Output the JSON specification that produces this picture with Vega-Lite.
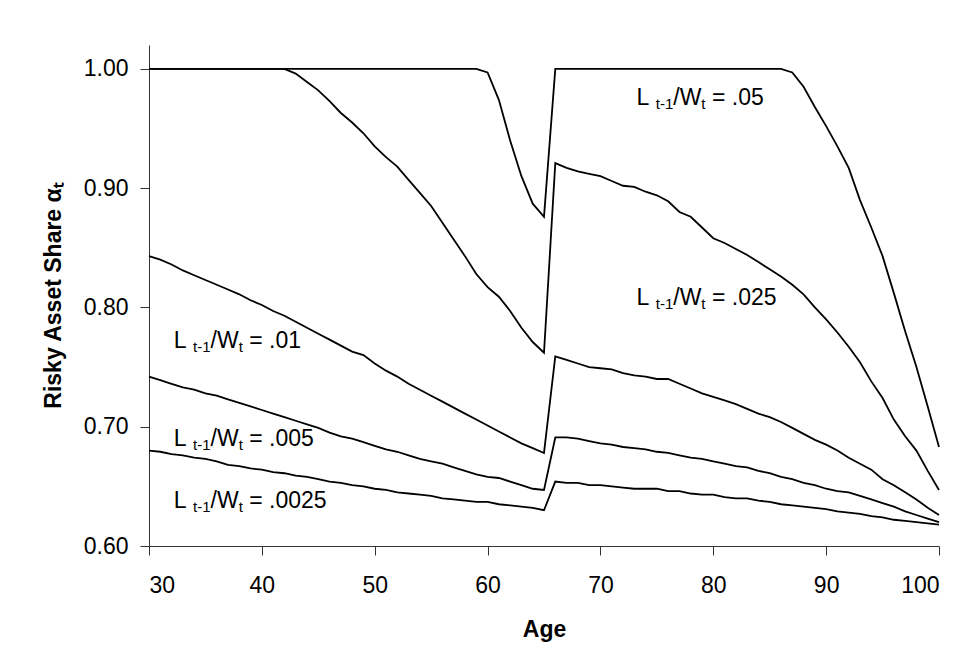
{
  "$schema": "https://vega.github.io/schema/vega-lite/v6.json",
  "width": 790,
  "height": 501,
  "autosize": "none",
  "padding": {"left": 149, "top": 45, "right": 34, "bottom": 120},
  "background": "white",
  "config": {
    "view": {"stroke": null},
    "font": "Liberation Sans",
    "axis": {"grid": false, "domainColor": "#333333", "tickColor": "#333333", "domainWidth": 1, "tickWidth": 1, "labelFont": "Liberation Sans", "labelFontSize": 23, "labelColor": "black", "titleFont": "Liberation Sans", "titleFontSize": 23, "titleFontWeight": "bold", "titleColor": "black", "tickSize": 9}
  },
  "datasets": {
    "curves": [
      {"s":"a","x":30,"y":1},{"s":"a","x":31,"y":1},{"s":"a","x":32,"y":1},{"s":"a","x":33,"y":1},{"s":"a","x":34,"y":1},{"s":"a","x":35,"y":1},{"s":"a","x":36,"y":1},{"s":"a","x":37,"y":1},{"s":"a","x":38,"y":1},{"s":"a","x":39,"y":1},
      {"s":"a","x":40,"y":1},{"s":"a","x":41,"y":1},{"s":"a","x":42,"y":1},{"s":"a","x":43,"y":1},{"s":"a","x":44,"y":1},{"s":"a","x":45,"y":1},{"s":"a","x":46,"y":1},{"s":"a","x":47,"y":1},{"s":"a","x":48,"y":1},{"s":"a","x":49,"y":1},
      {"s":"a","x":50,"y":1},{"s":"a","x":51,"y":1},{"s":"a","x":52,"y":1},{"s":"a","x":53,"y":1},{"s":"a","x":54,"y":1},{"s":"a","x":55,"y":1},{"s":"a","x":56,"y":1},{"s":"a","x":57,"y":1},{"s":"a","x":58,"y":1},{"s":"a","x":59,"y":1},
      {"s":"a","x":60,"y":0.997},{"s":"a","x":61,"y":0.974},{"s":"a","x":62,"y":0.94},{"s":"a","x":63,"y":0.91},{"s":"a","x":64,"y":0.887},{"s":"a","x":65,"y":0.876},
      {"s":"a","x":66,"y":1},{"s":"a","x":67,"y":1},{"s":"a","x":68,"y":1},{"s":"a","x":69,"y":1},{"s":"a","x":70,"y":1},{"s":"a","x":71,"y":1},{"s":"a","x":72,"y":1},{"s":"a","x":73,"y":1},{"s":"a","x":74,"y":1},{"s":"a","x":75,"y":1},
      {"s":"a","x":76,"y":1},{"s":"a","x":77,"y":1},{"s":"a","x":78,"y":1},{"s":"a","x":79,"y":1},{"s":"a","x":80,"y":1},{"s":"a","x":81,"y":1},{"s":"a","x":82,"y":1},{"s":"a","x":83,"y":1},{"s":"a","x":84,"y":1},{"s":"a","x":85,"y":1},{"s":"a","x":86,"y":1},
      {"s":"a","x":87,"y":0.997},{"s":"a","x":88,"y":0.985},{"s":"a","x":89,"y":0.968},{"s":"a","x":90,"y":0.952},{"s":"a","x":91,"y":0.935},{"s":"a","x":92,"y":0.917},{"s":"a","x":93,"y":0.89},{"s":"a","x":94,"y":0.867},{"s":"a","x":95,"y":0.843},{"s":"a","x":96,"y":0.812},{"s":"a","x":97,"y":0.78},{"s":"a","x":98,"y":0.75},{"s":"a","x":99,"y":0.717},{"s":"a","x":100,"y":0.683},

      {"s":"b","x":30,"y":1},{"s":"b","x":31,"y":1},{"s":"b","x":32,"y":1},{"s":"b","x":33,"y":1},{"s":"b","x":34,"y":1},{"s":"b","x":35,"y":1},{"s":"b","x":36,"y":1},{"s":"b","x":37,"y":1},{"s":"b","x":38,"y":1},{"s":"b","x":39,"y":1},
      {"s":"b","x":40,"y":1},{"s":"b","x":41,"y":1},{"s":"b","x":42,"y":1},{"s":"b","x":43,"y":0.996},{"s":"b","x":44,"y":0.989},{"s":"b","x":45,"y":0.982},{"s":"b","x":46,"y":0.973},{"s":"b","x":47,"y":0.963},{"s":"b","x":48,"y":0.955},{"s":"b","x":49,"y":0.946},
      {"s":"b","x":50,"y":0.935},{"s":"b","x":51,"y":0.926},{"s":"b","x":52,"y":0.918},{"s":"b","x":53,"y":0.907},{"s":"b","x":54,"y":0.896},{"s":"b","x":55,"y":0.885},{"s":"b","x":56,"y":0.871},{"s":"b","x":57,"y":0.857},{"s":"b","x":58,"y":0.843},{"s":"b","x":59,"y":0.828},
      {"s":"b","x":60,"y":0.817},{"s":"b","x":61,"y":0.809},{"s":"b","x":62,"y":0.797},{"s":"b","x":63,"y":0.783},{"s":"b","x":64,"y":0.771},{"s":"b","x":65,"y":0.762},
      {"s":"b","x":66,"y":0.921},{"s":"b","x":67,"y":0.917},{"s":"b","x":68,"y":0.914},{"s":"b","x":69,"y":0.912},{"s":"b","x":70,"y":0.91},{"s":"b","x":71,"y":0.906},{"s":"b","x":72,"y":0.902},{"s":"b","x":73,"y":0.901},{"s":"b","x":74,"y":0.897},{"s":"b","x":75,"y":0.894},
      {"s":"b","x":76,"y":0.889},{"s":"b","x":77,"y":0.88},{"s":"b","x":78,"y":0.876},{"s":"b","x":79,"y":0.867},{"s":"b","x":80,"y":0.858},{"s":"b","x":81,"y":0.854},{"s":"b","x":82,"y":0.849},{"s":"b","x":83,"y":0.844},{"s":"b","x":84,"y":0.838},{"s":"b","x":85,"y":0.832},
      {"s":"b","x":86,"y":0.826},{"s":"b","x":87,"y":0.819},{"s":"b","x":88,"y":0.811},{"s":"b","x":89,"y":0.8},{"s":"b","x":90,"y":0.79},{"s":"b","x":91,"y":0.779},{"s":"b","x":92,"y":0.767},{"s":"b","x":93,"y":0.754},{"s":"b","x":94,"y":0.738},{"s":"b","x":95,"y":0.724},
      {"s":"b","x":96,"y":0.706},{"s":"b","x":97,"y":0.692},{"s":"b","x":98,"y":0.68},{"s":"b","x":99,"y":0.663},{"s":"b","x":100,"y":0.647},

      {"s":"c","x":30,"y":0.843},{"s":"c","x":31,"y":0.84},{"s":"c","x":32,"y":0.836},{"s":"c","x":33,"y":0.831},{"s":"c","x":34,"y":0.827},{"s":"c","x":35,"y":0.823},{"s":"c","x":36,"y":0.819},{"s":"c","x":37,"y":0.815},{"s":"c","x":38,"y":0.811},{"s":"c","x":39,"y":0.806},
      {"s":"c","x":40,"y":0.802},{"s":"c","x":41,"y":0.797},{"s":"c","x":42,"y":0.793},{"s":"c","x":43,"y":0.788},{"s":"c","x":44,"y":0.783},{"s":"c","x":45,"y":0.778},{"s":"c","x":46,"y":0.773},{"s":"c","x":47,"y":0.768},{"s":"c","x":48,"y":0.763},{"s":"c","x":49,"y":0.76},
      {"s":"c","x":50,"y":0.753},{"s":"c","x":51,"y":0.747},{"s":"c","x":52,"y":0.742},{"s":"c","x":53,"y":0.736},{"s":"c","x":54,"y":0.731},{"s":"c","x":55,"y":0.726},{"s":"c","x":56,"y":0.721},{"s":"c","x":57,"y":0.716},{"s":"c","x":58,"y":0.711},{"s":"c","x":59,"y":0.706},
      {"s":"c","x":60,"y":0.701},{"s":"c","x":61,"y":0.696},{"s":"c","x":62,"y":0.691},{"s":"c","x":63,"y":0.686},{"s":"c","x":64,"y":0.682},{"s":"c","x":65,"y":0.678},
      {"s":"c","x":66,"y":0.759},{"s":"c","x":67,"y":0.756},{"s":"c","x":68,"y":0.753},{"s":"c","x":69,"y":0.75},{"s":"c","x":70,"y":0.749},{"s":"c","x":71,"y":0.748},{"s":"c","x":72,"y":0.745},{"s":"c","x":73,"y":0.743},{"s":"c","x":74,"y":0.742},{"s":"c","x":75,"y":0.74},
      {"s":"c","x":76,"y":0.74},{"s":"c","x":77,"y":0.736},{"s":"c","x":78,"y":0.732},{"s":"c","x":79,"y":0.728},{"s":"c","x":80,"y":0.725},{"s":"c","x":81,"y":0.722},{"s":"c","x":82,"y":0.719},{"s":"c","x":83,"y":0.715},{"s":"c","x":84,"y":0.711},{"s":"c","x":85,"y":0.708},
      {"s":"c","x":86,"y":0.704},{"s":"c","x":87,"y":0.699},{"s":"c","x":88,"y":0.694},{"s":"c","x":89,"y":0.689},{"s":"c","x":90,"y":0.685},{"s":"c","x":91,"y":0.68},{"s":"c","x":92,"y":0.674},{"s":"c","x":93,"y":0.669},{"s":"c","x":94,"y":0.664},{"s":"c","x":95,"y":0.656},
      {"s":"c","x":96,"y":0.651},{"s":"c","x":97,"y":0.645},{"s":"c","x":98,"y":0.639},{"s":"c","x":99,"y":0.632},{"s":"c","x":100,"y":0.626},

      {"s":"d","x":30,"y":0.742},{"s":"d","x":31,"y":0.739},{"s":"d","x":32,"y":0.736},{"s":"d","x":33,"y":0.733},{"s":"d","x":34,"y":0.731},{"s":"d","x":35,"y":0.728},{"s":"d","x":36,"y":0.726},{"s":"d","x":37,"y":0.723},{"s":"d","x":38,"y":0.72},{"s":"d","x":39,"y":0.717},
      {"s":"d","x":40,"y":0.714},{"s":"d","x":41,"y":0.711},{"s":"d","x":42,"y":0.708},{"s":"d","x":43,"y":0.705},{"s":"d","x":44,"y":0.702},{"s":"d","x":45,"y":0.699},{"s":"d","x":46,"y":0.695},{"s":"d","x":47,"y":0.692},{"s":"d","x":48,"y":0.69},{"s":"d","x":49,"y":0.687},
      {"s":"d","x":50,"y":0.684},{"s":"d","x":51,"y":0.681},{"s":"d","x":52,"y":0.679},{"s":"d","x":53,"y":0.676},{"s":"d","x":54,"y":0.673},{"s":"d","x":55,"y":0.671},{"s":"d","x":56,"y":0.669},{"s":"d","x":57,"y":0.666},{"s":"d","x":58,"y":0.663},{"s":"d","x":59,"y":0.66},
      {"s":"d","x":60,"y":0.658},{"s":"d","x":61,"y":0.657},{"s":"d","x":62,"y":0.654},{"s":"d","x":63,"y":0.651},{"s":"d","x":64,"y":0.648},{"s":"d","x":65,"y":0.647},
      {"s":"d","x":66,"y":0.691},{"s":"d","x":67,"y":0.691},{"s":"d","x":68,"y":0.69},{"s":"d","x":69,"y":0.688},{"s":"d","x":70,"y":0.686},{"s":"d","x":71,"y":0.685},{"s":"d","x":72,"y":0.683},{"s":"d","x":73,"y":0.682},{"s":"d","x":74,"y":0.681},{"s":"d","x":75,"y":0.679},
      {"s":"d","x":76,"y":0.678},{"s":"d","x":77,"y":0.676},{"s":"d","x":78,"y":0.674},{"s":"d","x":79,"y":0.673},{"s":"d","x":80,"y":0.671},{"s":"d","x":81,"y":0.669},{"s":"d","x":82,"y":0.667},{"s":"d","x":83,"y":0.666},{"s":"d","x":84,"y":0.663},{"s":"d","x":85,"y":0.661},
      {"s":"d","x":86,"y":0.658},{"s":"d","x":87,"y":0.656},{"s":"d","x":88,"y":0.653},{"s":"d","x":89,"y":0.651},{"s":"d","x":90,"y":0.648},{"s":"d","x":91,"y":0.646},{"s":"d","x":92,"y":0.645},{"s":"d","x":93,"y":0.642},{"s":"d","x":94,"y":0.639},{"s":"d","x":95,"y":0.636},
      {"s":"d","x":96,"y":0.633},{"s":"d","x":97,"y":0.629},{"s":"d","x":98,"y":0.626},{"s":"d","x":99,"y":0.623},{"s":"d","x":100,"y":0.62},

      {"s":"e","x":30,"y":0.68},{"s":"e","x":31,"y":0.679},{"s":"e","x":32,"y":0.677},{"s":"e","x":33,"y":0.676},{"s":"e","x":34,"y":0.674},{"s":"e","x":35,"y":0.673},{"s":"e","x":36,"y":0.671},{"s":"e","x":37,"y":0.668},{"s":"e","x":38,"y":0.667},{"s":"e","x":39,"y":0.665},
      {"s":"e","x":40,"y":0.664},{"s":"e","x":41,"y":0.662},{"s":"e","x":42,"y":0.661},{"s":"e","x":43,"y":0.659},{"s":"e","x":44,"y":0.658},{"s":"e","x":45,"y":0.656},{"s":"e","x":46,"y":0.654},{"s":"e","x":47,"y":0.653},{"s":"e","x":48,"y":0.651},{"s":"e","x":49,"y":0.65},
      {"s":"e","x":50,"y":0.648},{"s":"e","x":51,"y":0.647},{"s":"e","x":52,"y":0.645},{"s":"e","x":53,"y":0.644},{"s":"e","x":54,"y":0.643},{"s":"e","x":55,"y":0.642},{"s":"e","x":56,"y":0.64},{"s":"e","x":57,"y":0.639},{"s":"e","x":58,"y":0.638},{"s":"e","x":59,"y":0.637},
      {"s":"e","x":60,"y":0.637},{"s":"e","x":61,"y":0.635},{"s":"e","x":62,"y":0.634},{"s":"e","x":63,"y":0.633},{"s":"e","x":64,"y":0.632},{"s":"e","x":65,"y":0.63},
      {"s":"e","x":66,"y":0.654},{"s":"e","x":67,"y":0.653},{"s":"e","x":68,"y":0.653},{"s":"e","x":69,"y":0.651},{"s":"e","x":70,"y":0.651},{"s":"e","x":71,"y":0.65},{"s":"e","x":72,"y":0.649},{"s":"e","x":73,"y":0.648},{"s":"e","x":74,"y":0.648},{"s":"e","x":75,"y":0.648},
      {"s":"e","x":76,"y":0.646},{"s":"e","x":77,"y":0.646},{"s":"e","x":78,"y":0.644},{"s":"e","x":79,"y":0.643},{"s":"e","x":80,"y":0.643},{"s":"e","x":81,"y":0.641},{"s":"e","x":82,"y":0.64},{"s":"e","x":83,"y":0.64},{"s":"e","x":84,"y":0.638},{"s":"e","x":85,"y":0.637},
      {"s":"e","x":86,"y":0.635},{"s":"e","x":87,"y":0.634},{"s":"e","x":88,"y":0.633},{"s":"e","x":89,"y":0.632},{"s":"e","x":90,"y":0.631},{"s":"e","x":91,"y":0.629},{"s":"e","x":92,"y":0.628},{"s":"e","x":93,"y":0.627},{"s":"e","x":94,"y":0.625},{"s":"e","x":95,"y":0.624},
      {"s":"e","x":96,"y":0.622},{"s":"e","x":97,"y":0.621},{"s":"e","x":98,"y":0.62},{"s":"e","x":99,"y":0.619},{"s":"e","x":100,"y":0.618}
    ],
    "labels": [
      {"x":73.2,"y":0.970,"tail":"= .05"},
      {"x":73.2,"y":0.802,"tail":"= .025"},
      {"x":32.2,"y":0.766,"tail":"= .01"},
      {"x":32.2,"y":0.684,"tail":"= .005"},
      {"x":32.2,"y":0.632,"tail":"= .0025"}
    ]
  },
  "layer": [
    {
      "data": {"name": "curves"},
      "mark": {"type": "line", "color": "black", "strokeWidth": 1.8, "clip": false},
      "encoding": {
        "x": {"field": "x", "type": "quantitative", "scale": {"domain": [30, 100], "nice": false, "zero": false},
              "axis": {"values": [30, 40, 50, 60, 70, 80, 90, 100], "format": "d", "labelPadding": 19, "title": "Age", "titlePadding": 21}},
        "y": {"field": "y", "type": "quantitative", "scale": {"domain": [0.6, 1.02], "nice": false, "zero": false},
              "axis": {"values": [0.6, 0.7, 0.8, 0.9, 1.0], "format": ".2f", "labelPadding": 12, "title": "Risky Asset Share αₜ", "titlePadding": 18}},
        "detail": {"field": "s", "type": "nominal"}
      }
    },
    {
      "data": {"name": "labels"},
      "mark": {"type": "text", "text": "L", "align": "left", "baseline": "alphabetic", "fontSize": 23, "color": "black", "font": "Liberation Sans"},
      "encoding": {"x": {"field": "x", "type": "quantitative"}, "y": {"field": "y", "type": "quantitative"}}
    },
    {
      "data": {"name": "labels"},
      "mark": {"type": "text", "text": "t-1", "align": "left", "baseline": "alphabetic", "fontSize": 15, "dx": 19.2, "dy": 4, "color": "black", "font": "Liberation Sans"},
      "encoding": {"x": {"field": "x", "type": "quantitative"}, "y": {"field": "y", "type": "quantitative"}}
    },
    {
      "data": {"name": "labels"},
      "mark": {"type": "text", "text": "/W", "align": "left", "baseline": "alphabetic", "fontSize": 23, "dx": 36.7, "color": "black", "font": "Liberation Sans"},
      "encoding": {"x": {"field": "x", "type": "quantitative"}, "y": {"field": "y", "type": "quantitative"}}
    },
    {
      "data": {"name": "labels"},
      "mark": {"type": "text", "text": "t", "align": "left", "baseline": "alphabetic", "fontSize": 15, "dx": 64.8, "dy": 4, "color": "black", "font": "Liberation Sans"},
      "encoding": {"x": {"field": "x", "type": "quantitative"}, "y": {"field": "y", "type": "quantitative"}}
    },
    {
      "data": {"name": "labels"},
      "mark": {"type": "text", "align": "left", "baseline": "alphabetic", "fontSize": 23, "dx": 75.4, "color": "black", "font": "Liberation Sans"},
      "encoding": {"x": {"field": "x", "type": "quantitative"}, "y": {"field": "y", "type": "quantitative"}, "text": {"field": "tail"}}
    }
  ]
}
